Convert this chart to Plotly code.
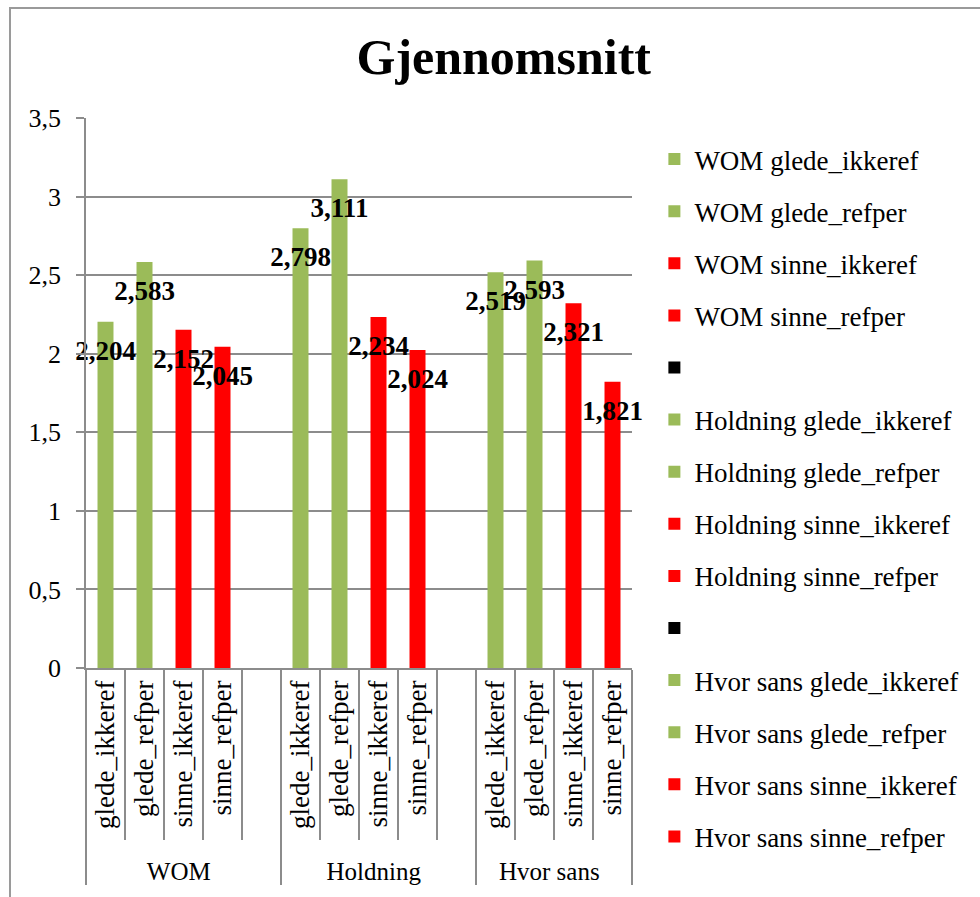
import plotly.graph_objects as go

groups = ["WOM", "Holdning", "Hvor sans"]
subs = ["glede_ikkeref", "glede_refper", "sinne_ikkeref", "sinne_refper"]
values = {
    "WOM": [2.204, 2.583, 2.152, 2.045],
    "Holdning": [2.798, 3.111, 2.234, 2.024],
    "Hvor sans": [2.519, 2.593, 2.321, 1.821],
}
sub_colors = ["#9BBB59", "#9BBB59", "#FF0000", "#FF0000"]
blank_color = "#000000"
y_ticks = [0, 0.5, 1, 1.5, 2, 2.5, 3, 3.5]

FONT = "Liberation Serif"
GRID = "#8C8C8C"


def group_label(g):
    # group (outer) level label, drawn slightly smaller than the inner labels
    return f"<span style='font-size:25px'>{g}</span>"


fig = go.Figure()

lab_x0, lab_x1, lab_y, lab_t = [], [], [], []
gi = 0
n_slots = 0
for g_idx, g in enumerate(groups):
    gl = group_label(g)
    for s, v, c in zip(subs, values[g], sub_colors):
        fig.add_trace(go.Bar(
            x=[[gl], [s]], y=[v], name=f"{g} {s}",
            marker=dict(color=c, line=dict(width=0)),
            width=0.41, legendgroup=f"g{gi}", hoverinfo="skip",
        ))
        gi += 1
        n_slots += 1
        lab_x0.append(gl); lab_x1.append(s); lab_y.append(v)
        lab_t.append(f"{v:.3f}".replace(".", ","))
    if g_idx < len(groups) - 1:
        fig.add_trace(go.Bar(
            x=[[gl], [" "]], y=[0], name=" ",
            marker=dict(color=blank_color, line=dict(width=0)),
            width=0.41, legendgroup=f"g{gi}", hoverinfo="skip",
        ))
        gi += 1
        n_slots += 1

fig.add_trace(go.Scatter(
    x=[lab_x0, lab_x1], y=lab_y, mode="markers+text", text=lab_t,
    textposition="bottom center",
    marker=dict(size=27, opacity=0),
    textfont=dict(family=FONT, size=27, color="#000000", weight="bold"),
    showlegend=False, hoverinfo="skip", cliponaxis=False,
))

fig.update_layout(
    width=980, height=897,
    margin=dict(l=86, r=348, t=118, b=229, autoexpand=False),
    paper_bgcolor="white", plot_bgcolor="white",
    barmode="overlay",
    separators=", ",
    font=dict(family=FONT, size=26, color="#000000"),
    title=dict(text="<b>Gjennomsnitt</b>", x=0.514, xanchor="center",
               y=1 - 56 / 897, yanchor="middle",
               font=dict(family=FONT, size=50, color="#000000")),
    showlegend=True,
    legend=dict(x=1.041, xanchor="left", y=0.969, yanchor="top",
                font=dict(family=FONT, size=27, color="#000000"),
                tracegroupgap=14, bgcolor="rgba(0,0,0,0)",
                traceorder="grouped", maxheight=897),
    xaxis=dict(type="multicategory", range=[-0.5, n_slots - 0.5],
               showline=True, linecolor=GRID, linewidth=1.5,
               ticks="outside", ticklen=170, tickcolor=GRID, tickwidth=1.5,
               tickangle=-90, ticklabelstandoff=0, automargin=False,
               showdividers=True, dividercolor=GRID, dividerwidth=1.5,
               showgrid=False, tickfont=dict(family=FONT, size=27)),
    yaxis=dict(range=[0, 3.5], tickvals=y_ticks, showline=True, linecolor=GRID,
               linewidth=1.5, ticks="outside", ticklen=8, tickcolor=GRID,
               tickwidth=1.5, showgrid=True, gridcolor=GRID, gridwidth=1.5,
               zeroline=False, ticklabelstandoff=10, automargin=False,
               tickfont=dict(family=FONT, size=26)),
    shapes=[dict(type="rect", xref="paper", yref="paper",
                 x0=(10 - 86) / 546, x1=(990 - 86) / 546,
                 y0=(668 - 910) / 550, y1=(668 - 8) / 550,
                 line=dict(color="#9A9A9A", width=2), fillcolor="rgba(0,0,0,0)",
                 layer="below")],
)

fig.write_html("out.html", config={"displayModeBar": False},
               post_script="document.body.style.margin='0';")
